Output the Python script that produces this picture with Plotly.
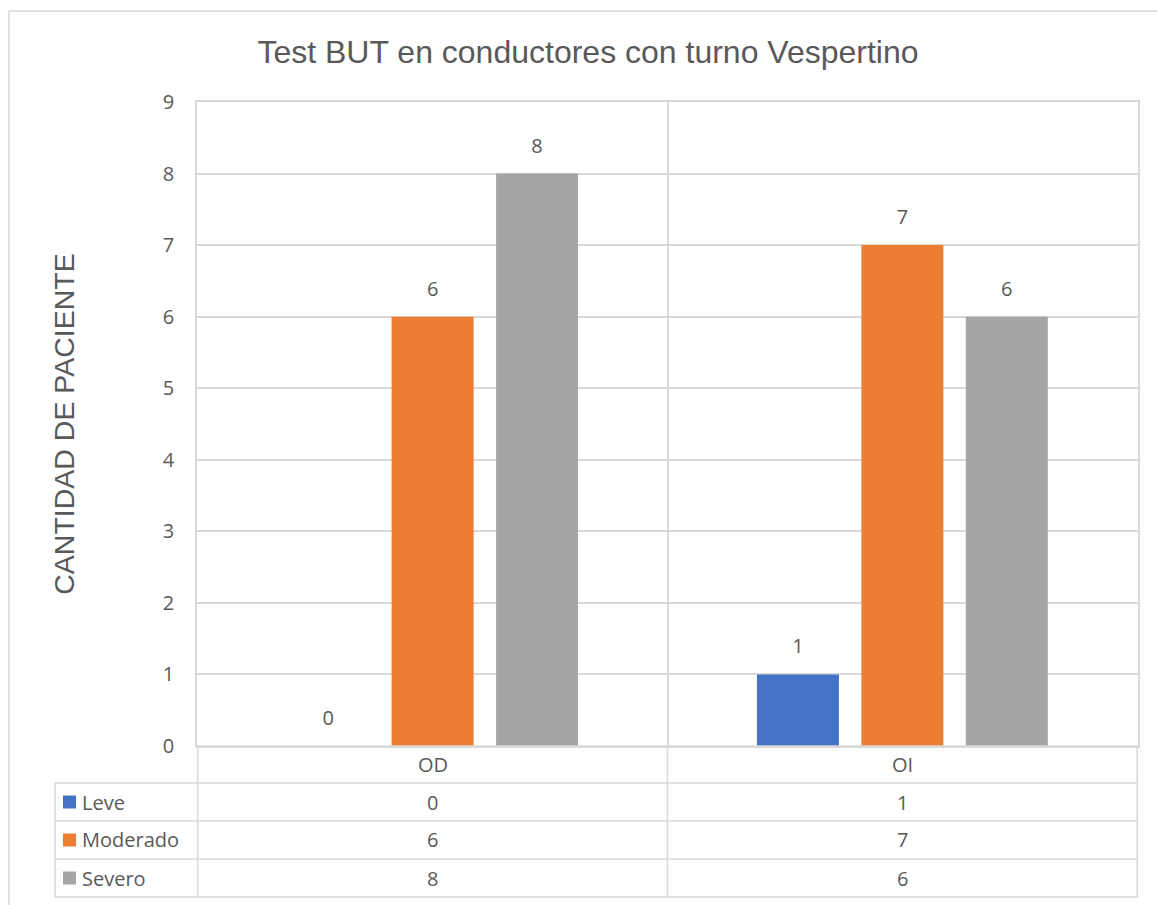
import plotly.graph_objects as go

# Data
categories = ["OD", "OI"]
series_names = ["Leve", "Moderado", "Severo"]
leve = [0, 1]
moderado = [6, 7]
severo = [8, 6]
series_values = [leve, moderado, severo]
colors = ["#4472C4", "#ED7D31", "#A5A5A5"]
y_ticks = list(range(0, 10))

W, H = 1157, 905
ML, MR, MT, MB = 197, 19, 102, 159
PW, PH = W - ML - MR, H - MT - MB

GRID = "#D9D9D9"
TXT = "#595959"
NUM_FONT = "Open Sans"


def px_x(px):
    return (px - ML) / PW


def px_y(py):
    return (H - MB - py) / PH


fig = go.Figure()

for name, vals, col in zip(series_names, series_values, colors):
    fig.add_trace(go.Bar(
        name=name, x=categories, y=vals, marker_color=col,
        marker_line_width=0, offsetgroup=name, showlegend=False,
    ))

# value labels, grouped the same way as the bars
for name, vals in zip(series_names, series_values):
    fig.add_trace(go.Scatter(
        x=categories, y=vals, mode="markers+text", text=[str(v) for v in vals],
        textposition="top center", offsetgroup=name,
        marker=dict(size=24, opacity=0), textfont=dict(family=NUM_FONT, size=20, color=TXT),
        cliponaxis=False, hoverinfo="skip", showlegend=False,
    ))

shapes = []
annotations = []
line = dict(color=GRID, width=1.5)

# outer chart frame
shapes.append(dict(type="rect", xref="paper", yref="paper",
                   x0=px_x(9), x1=px_x(1175), y0=px_y(925), y1=px_y(11),
                   line=dict(color=GRID, width=1.5), layer="below"))

# data table grid
row_edges = [746, 783, 821, 859, 897]
table_left = 55
for i, ry in enumerate(row_edges):
    x0 = px_x(table_left) if i > 0 else 0
    shapes.append(dict(type="line", xref="paper", yref="paper",
                       x0=x0, x1=1, y0=px_y(ry), y1=px_y(ry), line=line))
for xv in [-0.5, 0.5, 1.5]:
    shapes.append(dict(type="line", xref="x", yref="paper",
                       x0=xv, x1=xv, y0=px_y(row_edges[0]), y1=px_y(row_edges[-1]), line=line))
shapes.append(dict(type="line", xref="paper", yref="paper",
                   x0=px_x(table_left), x1=px_x(table_left),
                   y0=px_y(row_edges[1]), y1=px_y(row_edges[-1]), line=line))

# header row: category names
hy = (row_edges[0] + row_edges[1]) / 2
for c in categories:
    annotations.append(dict(xref="x", yref="paper", x=c, y=px_y(hy), text=c,
                            showarrow=False, xanchor="center", yanchor="middle",
                            font=dict(family=NUM_FONT, size=20, color=TXT)))

# series rows: legend key, name and values
for r, (name, vals, col) in enumerate(zip(series_names, series_values, colors)):
    cy = (row_edges[r + 1] + row_edges[r + 2]) / 2
    shapes.append(dict(type="rect", xref="paper", yref="paper",
                       x0=px_x(63), x1=px_x(76), y0=px_y(cy + 6.5), y1=px_y(cy - 6.5),
                       fillcolor=col, line=dict(width=0)))
    annotations.append(dict(xref="paper", yref="paper", x=px_x(80), y=px_y(cy), text=name,
                            showarrow=False, xanchor="left", yanchor="middle",
                            font=dict(family=NUM_FONT, size=20, color=TXT)))
    for c, v in zip(categories, vals):
        annotations.append(dict(xref="x", yref="paper", x=c, y=px_y(cy), text=str(v),
                                showarrow=False, xanchor="center", yanchor="middle",
                                font=dict(family=NUM_FONT, size=20, color=TXT)))

fig.update_layout(
    width=W, height=H,
    margin=dict(l=ML, r=MR, t=MT, b=MB, pad=0),
    paper_bgcolor="white", plot_bgcolor="white",
    barmode="group", bargap=0.333, bargroupgap=0.215,
    scattermode="group", scattergap=0.333,
    title=dict(text="Test BUT en conductores con turno Vespertino",
               xref="container", x=588 / W, xanchor="center",
               yref="container", y=1 - 52 / H, yanchor="middle",
               font=dict(family="Liberation Sans", size=32, color=TXT)),
    xaxis=dict(type="category", tickson="boundaries", showgrid=True, gridcolor=GRID,
               gridwidth=1.5, showline=True, linecolor=GRID, linewidth=1.5, mirror=True,
               showticklabels=False, ticks="", zeroline=False, fixedrange=True),
    yaxis=dict(range=[0, 9], tickvals=y_ticks, showgrid=True, gridcolor=GRID, gridwidth=1.5,
               showline=True, linecolor=GRID, linewidth=1.5, mirror=True, zeroline=False,
               ticks="", ticklabelstandoff=17,
               tickfont=dict(family=NUM_FONT, size=20, color=TXT),
               title=dict(text="CANTIDAD DE PACIENTE", standoff=80,
                          font=dict(family="Liberation Sans", size=28.5, color=TXT))),
    shapes=shapes, annotations=annotations,
)

fig.write_html("out.html")
